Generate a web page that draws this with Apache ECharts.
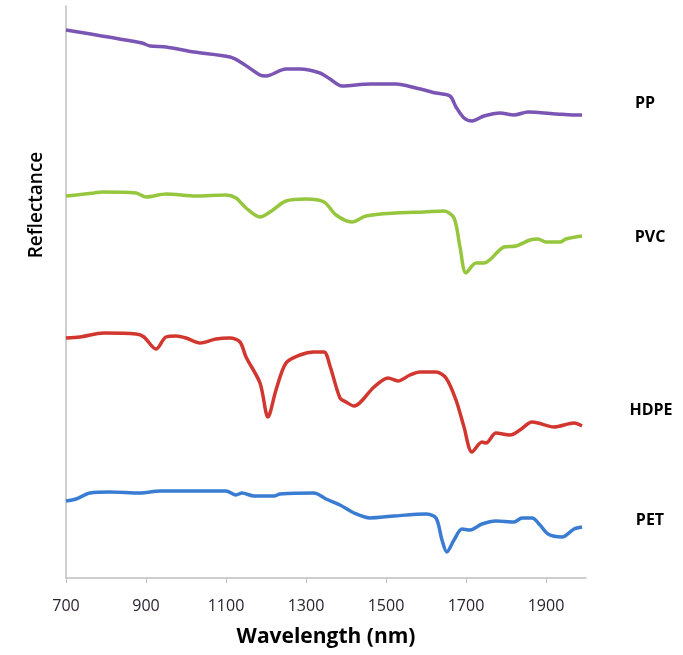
<!DOCTYPE html>
<html>
<head>
<meta charset="utf-8">
<title>Reflectance spectra</title>
<script src="https://cdn.jsdelivr.net/npm/echarts@6/dist/echarts.min.js"></script>
<style>
  html, body { margin: 0; padding: 0; background: #fff; }
  #chart { width: 683px; height: 655px; }
</style>
</head>
<body>
<div id="chart"></div>
<script>
// wavelength (nm) tick labels on the x axis
var wavelengthTicks = [700, 900, 1100, 1300, 1500, 1700, 1900]

// [wavelength nm, reflectance (arbitrary, offset per polymer)]
var ppData = [
  [700, 5.48], [890, 5.35], [910, 5.32], [950, 5.31], [1020, 5.26], [1110, 5.21],
  [1140, 5.15], [1185, 5.03], [1200, 5.02], [1250, 5.09], [1285, 5.09], [1335, 5.05],
  [1360, 4.99], [1390, 4.92], [1460, 4.94], [1525, 4.94], [1575, 4.90], [1625, 4.85],
  [1660, 4.82], [1675, 4.71], [1695, 4.60], [1715, 4.57], [1745, 4.62], [1785, 4.65],
  [1820, 4.63], [1855, 4.66], [1927, 4.64], [1967, 4.63], [1990, 4.63]
]
var pvcData = [
  [700, 3.82], [725, 3.83], [770, 3.85], [790, 3.86], [875, 3.85], [900, 3.81],
  [950, 3.84], [1025, 3.82], [1100, 3.83], [1125, 3.80], [1150, 3.70], [1185, 3.61],
  [1210, 3.66], [1250, 3.77], [1300, 3.79], [1345, 3.76], [1375, 3.63], [1415, 3.56],
  [1450, 3.62], [1525, 3.65], [1595, 3.66], [1645, 3.67], [1670, 3.60], [1685, 3.31],
  [1700, 3.05], [1725, 3.15], [1745, 3.15], [1795, 3.31], [1825, 3.32], [1860, 3.38],
  [1880, 3.39], [1900, 3.36], [1935, 3.36], [1950, 3.39], [1990, 3.42]
]
var hdpeData = [
  [700, 2.40], [735, 2.41], [795, 2.45], [875, 2.44], [895, 2.41], [925, 2.29],
  [950, 2.41], [975, 2.42], [1000, 2.40], [1035, 2.35], [1075, 2.39], [1110, 2.40],
  [1135, 2.36], [1150, 2.21], [1185, 1.95], [1205, 1.61], [1225, 1.88], [1250, 2.15],
  [1285, 2.23], [1320, 2.26], [1345, 2.26], [1360, 2.12], [1385, 1.80], [1400, 1.76],
  [1420, 1.72], [1470, 1.91], [1505, 2.00], [1530, 1.97], [1560, 2.03], [1585, 2.06],
  [1625, 2.06], [1650, 2.00], [1675, 1.78], [1695, 1.51], [1715, 1.26], [1740, 1.36],
  [1750, 1.35], [1775, 1.45], [1810, 1.43], [1835, 1.48], [1865, 1.56], [1880, 1.55],
  [1920, 1.51], [1970, 1.55], [1990, 1.52]
]
var petData = [
  [700, 0.77], [725, 0.79], [760, 0.85], [810, 0.86], [885, 0.85], [935, 0.87],
  [1035, 0.87], [1100, 0.87], [1125, 0.83], [1140, 0.85], [1170, 0.82], [1220, 0.82],
  [1235, 0.84], [1320, 0.85], [1350, 0.79], [1385, 0.73], [1420, 0.65], [1460, 0.60],
  [1520, 0.62], [1600, 0.64], [1625, 0.60], [1640, 0.38], [1652, 0.26], [1670, 0.38],
  [1690, 0.49], [1710, 0.48], [1740, 0.54], [1775, 0.57], [1820, 0.56], [1840, 0.60],
  [1865, 0.60], [1885, 0.53], [1905, 0.44], [1940, 0.41], [1970, 0.49], [1990, 0.51]
]

var seriesNames = ['PP', 'PVC', 'HDPE', 'PET']
var seriesColors = ['#7b55b3', '#96c63d', '#d2372f', '#3a7cd2']

var chart = echarts.init(document.getElementById('chart'))

function lineSeries(name, data, color) {
  return {
    name: name,
    type: 'line',
    data: data,
    smooth: 0.3,
    symbol: 'none',
    lineStyle: { color: color, width: 3.5 },
    itemStyle: { color: color }
  }
}

var labelFont = { fontFamily: 'Open Sans', fontSize: 16, fontWeight: 'bold', fill: '#000' }

chart.setOption({
  animation: false,
  backgroundColor: '#fff',
  grid: { left: 66, right: 97, top: 6, bottom: 77 },
  xAxis: {
    type: 'value',
    min: 700,
    max: 2000,
    interval: 200,
    name: 'Wavelength (nm)',
    nameLocation: 'middle',
    nameGap: 49,
    nameTextStyle: { fontFamily: 'Open Sans', fontSize: 21, fontWeight: 'bold', color: '#000' },
    axisLine: { lineStyle: { color: '#bfbfbf', width: 1.5 } },
    axisTick: { show: true, length: 5, lineStyle: { color: '#bfbfbf' }, customValues: wavelengthTicks },
    axisLabel: {
      customValues: wavelengthTicks,
      formatter: function (v) { return String(v) },
      margin: 20,
      fontFamily: 'Open Sans',
      fontSize: 16,
      color: '#2a2230'
    },
    splitLine: { show: false }
  },
  yAxis: {
    type: 'value',
    min: 0,
    max: 5.72,
    axisLine: { show: true, lineStyle: { color: '#bfbfbf', width: 1.5 } },
    axisTick: { show: false },
    axisLabel: { show: false },
    splitLine: { show: false }
  },
  graphic: [
    {
      type: 'text', x: 37, y: 205, rotation: Math.PI / 2,
      style: { text: 'Reflectance', fontFamily: 'Open Sans', fontSize: 19, fontWeight: 600,
        fill: '#000', align: 'center', verticalAlign: 'middle' }
    },
    { type: 'text', x: 645, y: 103, style: Object.assign({ text: seriesNames[0], align: 'center', verticalAlign: 'middle' }, labelFont) },
    { type: 'text', x: 650, y: 237, style: Object.assign({ text: seriesNames[1], align: 'center', verticalAlign: 'middle' }, labelFont) },
    { type: 'text', x: 651, y: 410, style: Object.assign({ text: seriesNames[2], align: 'center', verticalAlign: 'middle' }, labelFont) },
    { type: 'text', x: 650, y: 520, style: Object.assign({ text: seriesNames[3], align: 'center', verticalAlign: 'middle' }, labelFont) }
  ],
  series: [
    lineSeries(seriesNames[0], ppData, seriesColors[0]),
    lineSeries(seriesNames[1], pvcData, seriesColors[1]),
    lineSeries(seriesNames[2], hdpeData, seriesColors[2]),
    lineSeries(seriesNames[3], petData, seriesColors[3])
  ]
})
</script>
</body>
</html>
